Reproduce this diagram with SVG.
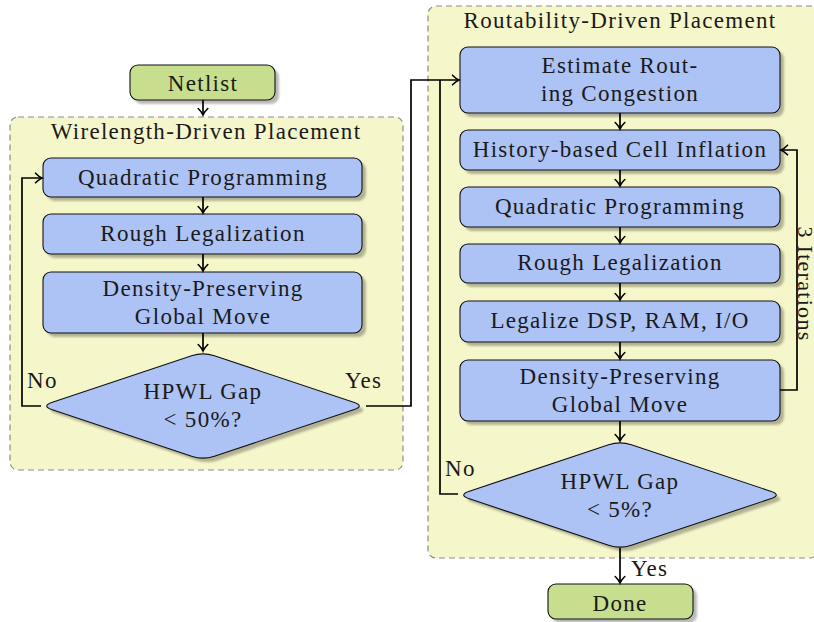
<svg xmlns="http://www.w3.org/2000/svg" width="814" height="622" viewBox="0 0 814 622" font-family="'Liberation Serif', 'DejaVu Serif', serif">
  <defs>
    <style>
      text { font-family: "Liberation Serif", "DejaVu Serif", serif; font-size: 23px; letter-spacing: 1.3px; fill: #1a1a1a; text-anchor: middle; }
      .panel { fill: #f6f6cb; stroke: #8c8c8c; stroke-width: 1.2; stroke-dasharray: 6 4; }
      .box { fill: #adc2f5; stroke: #111; stroke-width: 1.1; }
      .term { fill: #c6de8e; stroke: #111; stroke-width: 1.1; }
      .shadow { fill: #000; opacity: 0.27; filter: url(#soft); }
      .wire { fill: none; stroke: #000; stroke-width: 1.7; stroke-linejoin: miter; }
      .lbl { text-anchor: start; }
      .side { font-size: 22px; letter-spacing: 1.3px; }
    </style>
    <filter id="soft" x="-10%" y="-10%" width="120%" height="120%">
      <feGaussianBlur stdDeviation="0.8"/>
    </filter>
    <marker id="arrow" markerUnits="userSpaceOnUse" markerWidth="12" markerHeight="12" viewBox="-7 -6 9 12" refX="1" refY="0" orient="auto">
      <path d="M-5.5,-4.8 Q-2,-1.2 1,0 Q-2,1.2 -5.5,4.8" fill="none" stroke="#000" stroke-width="1.6" stroke-linecap="round"/>
    </marker>
    <!-- decision shape with softened corners, centred on the origin -->
    <path id="diamond" d="M11.4,-50.2 L150.6,-3.8 Q162,0 150.6,3.8 L11.4,50.2 Q0,54 -11.4,50.2 L-150.6,3.8 Q-162,0 -150.6,-3.8 L-11.4,-50.2 Q0,-54 11.4,-50.2Z"/>
  </defs>

  <!-- stage panels -->
  <g id="panel-wirelength">
    <rect class="panel" x="10" y="117" width="393" height="353" rx="8"/>
    <text x="206" y="139">Wirelength-Driven Placement</text>
  </g>
  <g id="panel-routability">
    <rect class="panel" x="428" y="6" width="390" height="552" rx="8"/>
    <text x="620" y="28">Routability-Driven Placement</text>
  </g>

  <!-- wirelength-driven stage -->
  <g id="netlist">
    <rect class="shadow" x="134" y="69" width="145" height="35" rx="8"/>
    <rect class="term" x="130" y="65" width="145" height="35" rx="8"/>
    <text x="203" y="91">Netlist</text>
  </g>
  <g id="wl-qp">
    <rect class="shadow" x="47" y="162" width="319" height="39" rx="8"/>
    <rect class="box" x="43" y="158" width="319" height="39" rx="8"/>
    <text x="203" y="185">Quadratic Programming</text>
  </g>
  <g id="wl-rough">
    <rect class="shadow" x="47" y="218" width="319" height="40" rx="8"/>
    <rect class="box" x="43" y="214" width="319" height="40" rx="8"/>
    <text x="203" y="241">Rough Legalization</text>
  </g>
  <g id="wl-density">
    <rect class="shadow" x="47" y="276" width="319" height="61" rx="8"/>
    <rect class="box" x="43" y="272" width="319" height="61" rx="8"/>
    <text x="203" y="296">Density-Preserving</text>
    <text x="203" y="324">Global Move</text>
  </g>
  <g id="wl-check">
    <use href="#diamond" class="shadow" transform="translate(207,410)"/>
    <use href="#diamond" class="box" transform="translate(203,406)"/>
    <text x="203" y="399">HPWL Gap</text>
    <text x="203" y="427">&lt; 50%?</text>
  </g>

  <!-- routability-driven stage -->
  <g id="rd-estimate">
    <rect class="shadow" x="464" y="51" width="320" height="66" rx="8"/>
    <rect class="box" x="460" y="47" width="320" height="66" rx="8"/>
    <text x="620" y="73">Estimate Rout-</text>
    <text x="620" y="101">ing Congestion</text>
  </g>
  <g id="rd-inflation">
    <rect class="shadow" x="464" y="134" width="320" height="40" rx="8"/>
    <rect class="box" x="460" y="130" width="320" height="40" rx="8"/>
    <text x="620" y="157">History-based Cell Inflation</text>
  </g>
  <g id="rd-qp">
    <rect class="shadow" x="464" y="191" width="320" height="40" rx="8"/>
    <rect class="box" x="460" y="187" width="320" height="40" rx="8"/>
    <text x="620" y="214">Quadratic Programming</text>
  </g>
  <g id="rd-rough">
    <rect class="shadow" x="464" y="248" width="320" height="39" rx="8"/>
    <rect class="box" x="460" y="244" width="320" height="39" rx="8"/>
    <text x="620" y="270">Rough Legalization</text>
  </g>
  <g id="rd-macros">
    <rect class="shadow" x="464" y="305" width="320" height="41" rx="8"/>
    <rect class="box" x="460" y="301" width="320" height="41" rx="8"/>
    <text x="620" y="328">Legalize DSP, RAM, I/O</text>
  </g>
  <g id="rd-density">
    <rect class="shadow" x="464" y="364" width="320" height="61" rx="8"/>
    <rect class="box" x="460" y="360" width="320" height="61" rx="8"/>
    <text x="620" y="384">Density-Preserving</text>
    <text x="620" y="412">Global Move</text>
  </g>
  <g id="rd-check">
    <use href="#diamond" class="shadow" transform="translate(624,499)"/>
    <use href="#diamond" class="box" transform="translate(620,495)"/>
    <text x="620" y="489">HPWL Gap</text>
    <text x="620" y="517">&lt; 5%?</text>
  </g>
  <g id="done">
    <rect class="shadow" x="552" y="588" width="145" height="35" rx="8"/>
    <rect class="term" x="548" y="584" width="145" height="35" rx="8"/>
    <text x="620" y="611">Done</text>
  </g>

  <!-- connectors -->
  <g id="connectors">
    <path class="wire" d="M203,100 V115" marker-end="url(#arrow)"/>
    <path class="wire" d="M203,197 V213" marker-end="url(#arrow)"/>
    <path class="wire" d="M203,254 V271" marker-end="url(#arrow)"/>
    <path class="wire" d="M203,333 V351" marker-end="url(#arrow)"/>
    <path class="wire" d="M41,406 H22 V178 H42" marker-end="url(#arrow)"/>
    <path class="wire" d="M366,406 H411 V80 H459" marker-end="url(#arrow)"/>

    <path class="wire" d="M620,113 V129" marker-end="url(#arrow)"/>
    <path class="wire" d="M620,170 V186" marker-end="url(#arrow)"/>
    <path class="wire" d="M620,227 V243" marker-end="url(#arrow)"/>
    <path class="wire" d="M620,283 V300" marker-end="url(#arrow)"/>
    <path class="wire" d="M620,342 V359" marker-end="url(#arrow)"/>
    <path class="wire" d="M620,421 V441" marker-end="url(#arrow)"/>
    <path class="wire" d="M458,494 H440 V80"/>
    <path class="wire" d="M780,390 H797 V150 H781" marker-end="url(#arrow)"/>
    <path class="wire" d="M620,548 V583" marker-end="url(#arrow)"/>

    <text class="lbl" x="27" y="388">No</text>
    <text class="lbl" x="345" y="388">Yes</text>
    <text class="lbl" x="445" y="476">No</text>
    <text class="lbl" x="631" y="576">Yes</text>
    <text class="side" transform="translate(798,284) rotate(90)">3 Iterations</text>
  </g>
</svg>
